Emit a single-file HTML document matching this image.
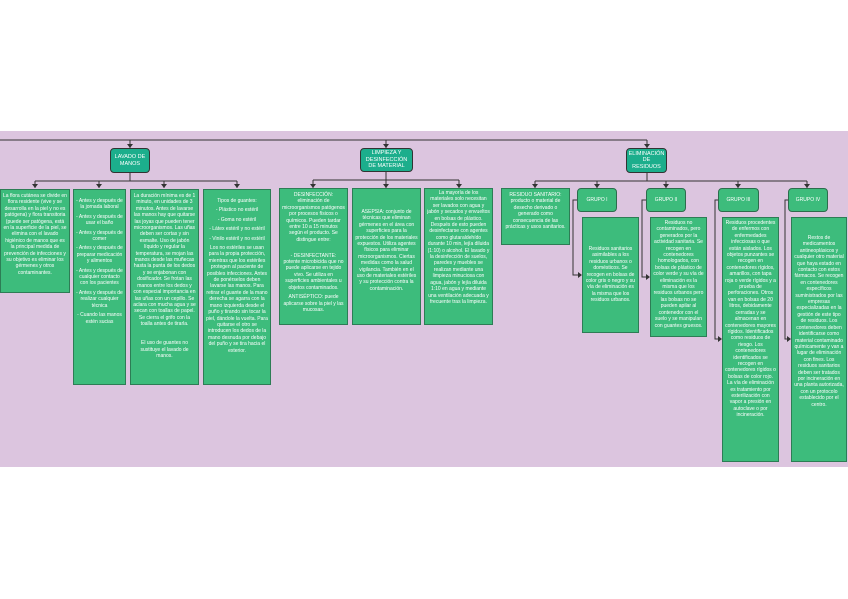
<!DOCTYPE html>
<html><head><meta charset="utf-8"><style>
*{margin:0;padding:0;box-sizing:border-box}
body{width:848px;height:599px;background:#fff;position:relative;overflow:hidden;font-family:"Liberation Sans",sans-serif}
#band{position:absolute;left:0;top:131px;width:848px;height:336px;background:#dcc5df}
.h{position:absolute;background:#1cae8c;border:1.5px solid #333;border-radius:4px;color:#fff;font-size:5.5px;line-height:6.5px;text-align:center;display:flex;align-items:center;justify-content:center;padding:1px}
.b{position:absolute;background:#3dbc7c;border:1px solid #2d7d55;color:#fff;font-size:5px;line-height:6.4px;text-align:center;padding:3px 2px;overflow:hidden}
.g{position:absolute;background:#3dbc7c;border:1.5px solid #2d6d4d;border-radius:4px;color:#fff;font-size:5px;display:flex;align-items:center;justify-content:center}
svg{position:absolute;left:0;top:0}
p{margin-bottom:3px}
</style></head><body>
<div id="band"></div>
<svg width="848" height="599">
<g stroke="#333" stroke-width="1" fill="none">
<path d="M0 140H647M130 140V148M386 140V148M647 140V148"/>
<path d="M130 173V181M35 181H237M35 181V188M99 181V188M164 181V188M237 181V188"/>
<path d="M386 172V180M313 180H459M313 180V188M386 180V188M459 180V188"/>
<path d="M647 173V181M535 181H807M535 181V188M597 181V188M666 181V188M738 181V188M807 181V188"/>
<path d="M577 200H573V275H581M646 200H642V277H649M718 200H715V339H721M788 200H785V339H790"/>
</g>
<g fill="#333">
<path d="M127 144h6l-3 4zM383 144h6l-3 4zM644 144h6l-3 4z"/>
<path d="M32 184h6l-3 4zM96 184h6l-3 4zM161 184h6l-3 4zM234 184h6l-3 4z"/>
<path d="M310 184h6l-3 4zM383 184h6l-3 4zM456 184h6l-3 4z"/>
<path d="M532 184h6l-3 4zM594 184h6l-3 4zM663 184h6l-3 4zM735 184h6l-3 4zM804 184h6l-3 4z"/>
<path d="M578 272v6l4-3zM646 274v6l4-3zM718 336v6l4-3zM787 336v6l4-3z"/>
</g>
</svg>
<div class="h" style="left:110px;top:148px;width:40px;height:25px">LAVADO DE MANOS</div>
<div class="h" style="left:360px;top:148px;width:53px;height:24px">LIMPIEZA Y DESINFECCIÓN DE MATERIAL</div>
<div class="h" style="left:626px;top:148px;width:41px;height:25px">ELIMINACIÓN DE RESIDUOS</div>

<div class="b" style="left:0;top:189px;width:70px;height:104px">La flora cutánea se divide en flora residente (vive y se desarrolla en la piel y no es patógena) y flora transitoria (puede ser patógena, está en la superficie de la piel, se elimina con el lavado higiénico de manos que es la principal medida de prevención de infecciones y su objetivo es eliminar los gérmenes y otros contaminantes.</div>
<div class="b" style="left:73px;top:189px;width:53px;height:196px;padding-top:8px"><p>- Antes y después de la jornada laboral</p><p>- Antes y después de usar el baño</p><p>- Antes y después de comer</p><p>- Antes y después de preparar medicación y alimentos</p><p>- Antes y después de cualquier contacto con los pacientes</p><p>- Antes y después de realizar cualquier técnica</p><p>- Cuando las manos estén sucias</p></div>
<div class="b" style="left:130px;top:189px;width:69px;height:196px">La duración mínima es de 1 minuto, en unidades de 3 minutos. Antes de lavarse las manos hay que quitarse las joyas que pueden tener microorganismos. Las uñas deben ser cortas y sin esmalte. Uso de jabón líquido y regular la temperatura, se mojan las manos desde las muñecas hasta la punta de los dedos y se enjabonan con dosificador. Se frotan las manos entre los dedos y con especial importancia en las uñas con un cepillo. Se aclara con mucha agua y se secan con toallas de papel. Se cierra el grifo con la toalla antes de tirarla.<br><br><br>El uso de guantes no sustituye el lavado de manos.</div>
<div class="b" style="left:203px;top:189px;width:68px;height:196px;padding-top:8px"><p>Tipos de guantes:</p><p>- Plástico no estéril</p><p>- Goma no estéril</p><p>- Látex estéril y no estéril</p><p>- Vinilo estéril y no estéril</p>Los no estériles se usan para la propia protección, mientras que los estériles protegen al paciente de posibles infecciones. Antes de ponérselos deben lavarse las manos. Para retirar el guante de la mano derecha se agarra con la mano izquierda desde el puño y tirando sin tocar la piel, dándole la vuelta. Para quitarse el otro se introducen los dedos de la mano desnuda por debajo del puño y se tira hacia el exterior.</div>

<div class="b" style="left:279px;top:188px;width:69px;height:137px"><p>DESINFECCIÓN: eliminación de microorganismos patógenos por procesos físicos o químicos. Pueden tardar entre 10 a 15 minutos según el producto. Se distingue entre:</p><br><p>- DESINFECTANTE: potente microbicida que no puede aplicarse en tejido vivo. Se utiliza en superficies ambientales u objetos contaminados.</p><p>ANTISÉPTICO: puede aplicarse sobre la piel y las mucosas.</p></div>
<div class="b" style="left:352px;top:188px;width:69px;height:137px;padding-top:20px">ASEPSIA: conjunto de técnicas que eliminan gérmenes en el área con superficies para la protección de los materiales expuestos. Utiliza agentes físicos para eliminar microorganismos. Ciertas medidas como la salud vigilancia. También en el uso de materiales estériles y su protección contra la contaminación.</div>
<div class="b" style="left:424px;top:188px;width:69px;height:137px;padding-top:1px">La mayoría de los materiales solo necesitan ser lavados con agua y jabón y secados y envueltos en bolsas de plástico. Después de esto pueden desinfectarse con agentes como glutaraldehído durante 10 min, lejía diluida (1:10) o alcohol. El lavado y la desinfección de suelos, paredes y muebles se realizan mediante una limpieza minuciosa con agua, jabón y lejía diluida 1:10 en agua y mediante una ventilación adecuada y frecuente tras la limpieza.</div>
<div class="b" style="left:501px;top:188px;width:69px;height:57px">RESIDUO SANITARIO: producto o material de desecho derivado o generado como consecuencia de las prácticas y usos sanitarios.</div>

<div class="g" style="left:577px;top:188px;width:40px;height:24px">GRUPO I</div>
<div class="g" style="left:646px;top:188px;width:40px;height:24px">GRUPO II</div>
<div class="g" style="left:718px;top:188px;width:41px;height:24px">GRUPO III</div>
<div class="g" style="left:788px;top:188px;width:40px;height:24px">GRUPO IV</div>

<div class="b" style="left:582px;top:217px;width:57px;height:116px;padding-top:28px">Residuos sanitarios asimilables a los residuos urbanos o domésticos. Se recogen en bolsas de color gris o negro y su vía de eliminación es la misma que los residuos urbanos.</div>
<div class="b" style="left:650px;top:217px;width:57px;height:120px;padding-top:2px">Residuos no contaminados, pero generados por la actividad sanitaria. Se recogen en contenedores homologados, con bolsas de plástico de color verde y su vía de eliminación es la misma que los residuos urbanos pero las bolsas no se pueden apilar al contenedor con el suelo y se manipulan con guantes gruesos.</div>
<div class="b" style="left:722px;top:217px;width:57px;height:245px;padding-top:2px">Residuos procedentes de enfermos con enfermedades infecciosas o que están aislados. Los objetos punzantes se recogen en contenedores rígidos, amarillos, con tapa roja o verde rígidos y a prueba de perforaciones. Otros van en bolsas de 20 litros, debidamente cerradas y se almacenan en contenedores mayores rígidos. Identificados como residuos de riesgo. Los contenedores identificados se recogen en contenedores rígidos o bolsas de color rojo. La vía de eliminación es tratamiento por esterilización con vapor a presión en autoclave o por incineración.</div>
<div class="b" style="left:791px;top:217px;width:56px;height:245px;padding-top:17px">Restos de medicamentos antineoplásicos y cualquier otro material que haya estado en contacto con estos fármacos. Se recogen en contenedores específicos suministrados por las empresas especializadas en la gestión de este tipo de residuos. Los contenedores deben identificarse como material contaminado químicamente y van a lugar de eliminación con fines. Los residuos sanitarios deben ser tratados por incineración en una planta autorizada, con un protocolo establecido por el centro.</div>
</body></html>
